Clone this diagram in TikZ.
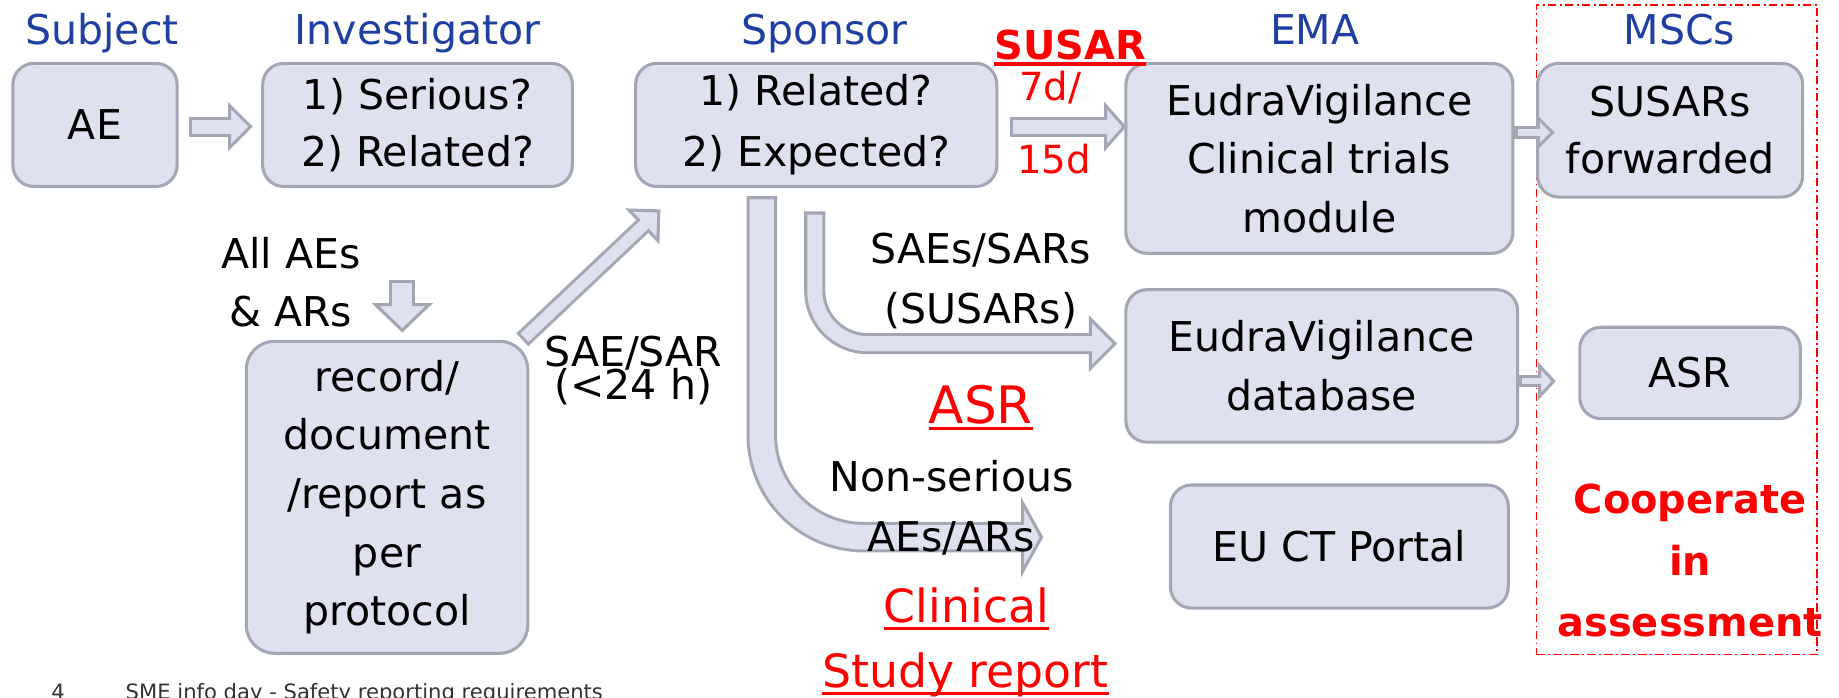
\documentclass[tikz,border=0pt]{standalone}
\usepackage{fontspec}
\setmainfont{DejaVu Sans}
\usetikzlibrary{calc}
\definecolor{boxfill}{HTML}{DFE1F1}
\definecolor{boxline}{HTML}{A3A6B4}
\definecolor{titleblue}{HTML}{1F3FA3}
\definecolor{footgray}{HTML}{333333}
\tikzset{
  bx/.style={draw=boxline, fill=boxfill, line width=2.6pt, rounded corners=18pt,
    align=center, inner sep=0pt, text=black, font=\fontsize{35}{50}\selectfont},
  ttl/.style={text=titleblue, anchor=base, inner sep=0pt, font=\fontsize{35}{42}\selectfont},
  lbl/.style={anchor=base, inner sep=0pt, text=black, font=\fontsize{35}{42}\selectfont},
  redlbl/.style={anchor=base, inner sep=0pt, text=red},
  boldred/.style={anchor=base, inner sep=0pt, text=red, font=\fontsize{34}{52}\bfseries},
  shaftout/.style={draw=boxline, line cap=butt},
  shaftin/.style={draw=boxfill, line cap=butt},
  headst/.style={draw=boxline, fill=boxfill, line width=2.6pt, line join=miter},
  uline/.style={draw=red, line width=2.4pt},
}
% straight block arrow: from, tip, shaft width, half head width, head length
\newcommand\fatline[5]{%
  \coordinate (hb) at ($(#2)!#5pt!(#1)$);
  \draw[shaftout, line width=#3pt] (#1) -- (hb);
  \draw[headst] ($(hb)!#4pt!90:(#2)$) -- (#2) -- ($(hb)!#4pt!-90:(#2)$) -- cycle;
  \draw[shaftin, line width=#3pt-5.2pt, shorten <=2.6pt] (#1) -- ($(hb)!-2pt!(#1)$);
}
\begin{document}
\begin{tikzpicture}[x=1pt, y=-1pt]
\useasboundingbox (0,0) rectangle (1568,595);
\clip (0,0) rectangle (1568,595);

% column titles
\node[ttl] (tsub) at (87,38) {Subject};
\node[ttl] (tinv) at (356,38) {Investigator};
\node[ttl] (tsp)  at (703,38) {Sponsor};
\node[ttl] (tema) at (1121,38) {EMA};
\node[ttl] (tmsc) at (1432,38) {MSCs};

% MSC frame
\node[draw=red, line width=1.5pt, dash pattern=on 7pt off 3pt on 1.5pt off 3pt,
  minimum width=239pt, minimum height=554pt, inner sep=0pt] (mscframe) at (1429.5,281) {};

% boxes
\node[bx, minimum width=140pt, minimum height=105pt] (ae) at (81,106.5) {AE};
\node[bx, minimum width=264pt, minimum height=105pt, font=\fontsize{35}{49}\selectfont] (inv) at (356,106.5) {1) Serious?\\2) Related?};
\node[bx, minimum width=308pt, minimum height=105pt, font=\fontsize{35}{52}\selectfont] (sp) at (696,106.5) {1) Related?\\2) Expected?};
\node[bx, minimum width=330pt, minimum height=162pt] (ema1) at (1125,135) {EudraVigilance\\Clinical trials\\module};
\node[bx, minimum width=226pt, minimum height=114pt, font=\fontsize{35}{48}\selectfont] (fwd) at (1424,111) {SUSARs\\forwarded};
\node[bx, minimum width=334pt, minimum height=130pt] (evdb) at (1127,312) {EudraVigilance\\database};
\node[bx, minimum width=188pt, minimum height=78pt] (asr) at (1441,318) {ASR};
\node[bx, minimum width=288pt, minimum height=105pt] (ctp) at (1142,466) {EU CT Portal};
\node[bx, minimum width=240pt, minimum height=266pt, rounded corners=24pt] (rec) at (330,424) {record/\\document\\/report as\\per\\protocol};

% curved block arrows out of the sponsor box
\coordinate (c1s) at ($(sp.south)+(-46.5,7)$);
\coordinate (c1t) at (888,458);
\coordinate (c1b) at ($(c1t)+(-16,0)$);
\draw[shaftout, line width=26pt, rounded corners=87pt] (c1s) |- (c1b);
\draw[headst] ($(c1b)+(0,-29)$) -- (c1t) -- ($(c1b)+(0,29)$) -- cycle;
\draw[shaftin, line width=20.8pt, rounded corners=87pt, shorten <=2.6pt] (c1s) |- ($(c1b)+(2,0)$);

\coordinate (c2s) at ($(sp.south)+(-1.3,20)$);
\coordinate (c2t) at ($(evdb.west)+(-8,-19)$);
\coordinate (c2b) at ($(c2t)+(-21,0)$);
\draw[shaftout, line width=18pt, rounded corners=45pt] (c2s) |- (c2b);
\draw[headst] ($(c2b)+(0,-21)$) -- (c2t) -- ($(c2b)+(0,21)$) -- cycle;
\draw[shaftin, line width=12.8pt, rounded corners=45pt, shorten <=2.6pt] (c2s) |- ($(c2b)+(2,0)$);

% straight block arrows
\coordinate (a1s) at ($(ae.east)+(9,1.5)$);
\coordinate (a1e) at ($(inv.west)+(-9,1.5)$);
\fatline{a1s}{a1e}{17}{18}{18}
\coordinate (a2s) at ($(sp.east)+(10,1.5)$);
\coordinate (a2e) at ($(ema1.west |- sp.east)+(0,1.5)$);
\fatline{a2s}{a2e}{17}{18}{16}
\coordinate (a3s) at ($(ema1.east)+(0,-22)$);
\coordinate (a3e) at ($(fwd.west)+(14,2)$);
\fatline{a3s}{a3e}{11}{12}{12}
\coordinate (a4s) at ($(evdb.east)+(0,13)$);
\coordinate (a4e) at ($(asr.west)+(-21,7)$);
\fatline{a4s}{a4e}{10}{13}{12}
\coordinate (a5s) at ($(rec.north)+(13,-51)$);
\coordinate (a5e) at ($(rec.north)+(13,-8)$);
\fatline{a5s}{a5e}{22}{23}{22}
\coordinate (a6s) at ($(rec.north east)+(-6,0)$);
\coordinate (a6e) at ($(sp.south west)+(21,19.5)$);
\fatline{a6s}{a6e}{15}{18}{18}

% labels
\node[boldred] (susar) at (912.4,51) {SUSAR};
\draw[uline, line width=2.8pt] ($(susar.base west)+(0,3.5)$) -- ($(susar.base east)+(0,3.5)$);
\node[redlbl, font=\fontsize{33}{40}\selectfont] (d7) at (895.4,85.3) {7d/};
\node[redlbl, font=\fontsize{33}{40}\selectfont] (d15) at (898.7,147.8) {15d};

\node[lbl] (allae) at (248,229) {All AEs};
\node[lbl] (andar) at (248,278.5) {\& ARs};
\node[lbl] (saesar) at (540,312.6) {SAE/SAR};
\node[lbl] (lt24) at (540,341) {(<24 h)};

\node[lbl] (saes) at (836.3,224.5) {SAEs/SARs};
\node[lbl] (susars) at (836.3,275.7) {(SUSARs)};
\node[redlbl, font=\fontsize{44}{50}\selectfont] (asrlbl) at (836.3,361) {ASR};
\draw[uline, line width=3pt] ($(asrlbl.base west)+(0,4.5)$) -- ($(asrlbl.base east)+(0,4.5)$);
\node[lbl] (nonser) at (811.5,419.2) {Non-serious};
\node[lbl] (aesars) at (810.8,470.4) {AEs/ARs};
\node[redlbl, font=\fontsize{39}{45}\selectfont] (clin) at (824,531) {Clinical};
\draw[uline] ($(clin.base west)+(0,5)$) -- ($(clin.base east)+(0,5)$);
\node[redlbl, font=\fontsize{39}{45}\selectfont] (csr) at (823,586) {Study report};
\draw[uline] ($(csr.base west)+(0,5)$) -- ($(csr.base east)+(0,5)$);

\node[boldred] (coop1) at (1441,438) {Cooperate};
\node[boldred] (coop2) at (1441,491) {in};
\node[boldred] (coop3) at (1441,543) {assessment};

% footer (cut by the page edge)
\node[anchor=base west, inner sep=0pt, text=footgray, font=\fontsize{18}{20}\selectfont] (fnum) at (43.7,596.5) {4};
\node[anchor=base west, inner sep=0pt, text=footgray, font=\fontsize{18}{20}\selectfont] (ftext) at (107,596.5) {SME info day - Safety reporting requirements};
\end{tikzpicture}
\end{document}
